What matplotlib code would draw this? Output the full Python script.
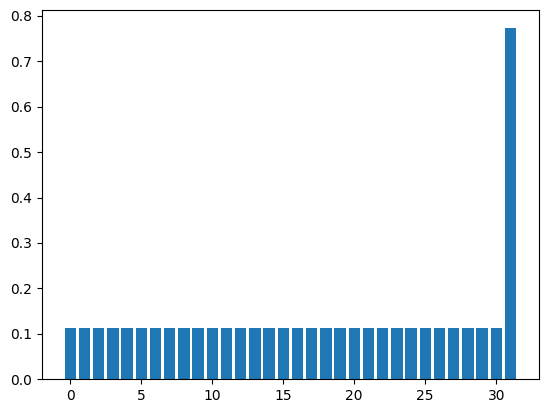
import matplotlib
matplotlib.use("Agg")
import matplotlib.pyplot as plt

categories = list(range(32))
values = [0.1125] * 31 + [0.774]

fig = plt.figure(figsize=(5.47, 4.13), dpi=100)
ax = fig.add_axes([42/547, (413-379.3)/413, (538.7-42)/547, (379.3-10)/413])
ax.bar(categories, values, color="#1f77b4")
fig.savefig("out.png", dpi=100)
